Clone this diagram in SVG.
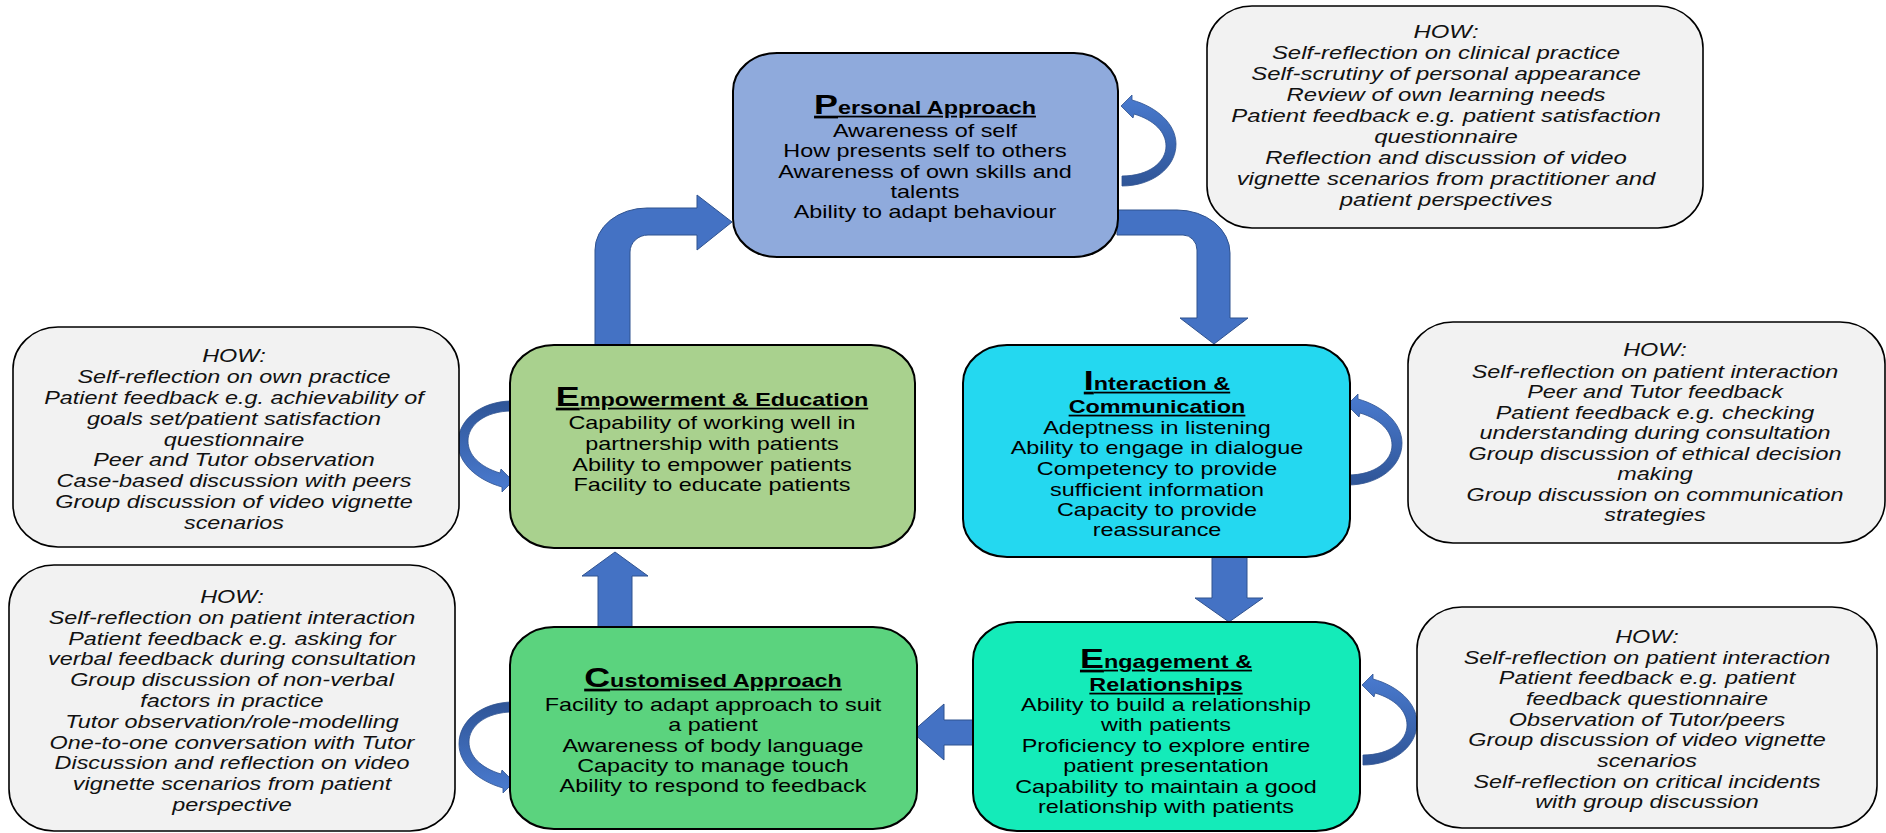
<svg xmlns="http://www.w3.org/2000/svg" xmlns:xlink="http://www.w3.org/1999/xlink" width="1886" height="833" viewBox="0 0 1886 833">
<style>
.t{font-family:"Liberation Sans",Arial,sans-serif;font-size:17.6px;fill:#000;text-anchor:middle}
.how{font-style:italic;fill:#111}
.ttl{font-weight:bold;text-decoration:underline}
.big{font-size:27px}
.node{stroke:#000;stroke-width:2}
.hbox{fill:#f2f2f2;stroke:#000;stroke-width:1.6}
.arr{fill:#4472c4;stroke:#2f528f;stroke-width:1}
.loop{fill:url(#lg);stroke:#2f528f;stroke-width:0.8}
</style>
<defs>
<linearGradient id="lg" x1="0" y1="0" x2="0" y2="1">
<stop offset="0" stop-color="#4a7bd0"/>
<stop offset="1" stop-color="#2f5597"/>
</linearGradient>
<path id="loopShape" d="M1,80 C31,80 55,62 55,38 C55,18 36,1 11,-6 L11,-11 L0,0 L12,12 L13,8 C33,14 45,26 45,40 C45,56 28,70 1,70 Z"/>
</defs>
<rect width="1886" height="833" fill="#fff"/>

<g id="connectors">
<path class="arr" d="M595,345 L595,250 A52,42 0 0 1 647,208 L697,208 L697,195 L732,222 L697,250 L697,235 L648,235 A18,17 0 0 0 630,252 L630,345 Z"/>
<path class="arr" d="M1117,210 L1177,210 A53,43 0 0 1 1230,253 L1230,318 L1248,318 L1214,344 L1180,318 L1197,318 L1197,250 A14,15 0 0 0 1183,235 L1117,235 Z"/>
<path class="arr" d="M1212,557 L1247,557 L1247,598 L1263,598 L1229,622 L1195,598 L1212,598 Z"/>
<path class="arr" d="M977,720 L944,720 L944,704 L912,732 L944,760 L944,745 L977,745 Z"/>
<path class="arr" d="M598,627 L598,576 L582,576 L615,552 L648,576 L632,576 L632,627 Z"/>
<use xlink:href="#loopShape" class="loop" transform="translate(1121,106)"/>
<use xlink:href="#loopShape" class="loop" transform="translate(1347,405)"/>
<use xlink:href="#loopShape" class="loop" transform="translate(1362,685)"/>
<use xlink:href="#loopShape" class="loop" transform="translate(513,481) rotate(180)"/>
<use xlink:href="#loopShape" class="loop" transform="translate(514,782) rotate(180)"/>
</g>

<g id="personal">
<rect class="node" x="733" y="53" width="385" height="204" rx="44" ry="38" fill="#8faadc"/>
<g transform="translate(925,0) scale(1.33,1)">
<text class="t ttl" x="0" y="114"><tspan class="big">P</tspan>ersonal Approach</text>
<text class="t"><tspan x="0" y="137">Awareness of self</tspan><tspan x="0" y="157">How presents self to others</tspan><tspan x="0" y="178">Awareness of own skills and</tspan><tspan x="0" y="198">talents</tspan><tspan x="0" y="218">Ability to adapt behaviour</tspan></text>
</g>
</g>

<g id="empowerment">
<rect class="node" x="510" y="345" width="405" height="203" rx="44" ry="38" fill="#a9d18e"/>
<g transform="translate(712,0) scale(1.33,1)">
<text class="t ttl" x="0" y="406"><tspan class="big">E</tspan>mpowerment &amp; Education</text>
<text class="t"><tspan x="0" y="429">Capability of working well in</tspan><tspan x="0" y="450">partnership with patients</tspan><tspan x="0" y="471">Ability to empower patients</tspan><tspan x="0" y="491">Facility to educate patients</tspan></text>
</g>
</g>

<g id="interaction">
<rect class="node" x="963" y="345" width="387" height="212" rx="44" ry="38" fill="#24d8f0"/>
<g transform="translate(1157,0) scale(1.33,1)">
<text class="t ttl"><tspan x="0" y="390"><tspan class="big">I</tspan>nteraction &amp;</tspan><tspan x="0" y="413">Communication</tspan></text>
<text class="t"><tspan x="0" y="434">Adeptness in listening</tspan><tspan x="0" y="454">Ability to engage in dialogue</tspan><tspan x="0" y="475">Competency to provide</tspan><tspan x="0" y="496">sufficient information</tspan><tspan x="0" y="516">Capacity to provide</tspan><tspan x="0" y="536">reassurance</tspan></text>
</g>
</g>

<g id="engagement">
<rect class="node" x="973" y="622" width="387" height="209" rx="44" ry="38" fill="#14ebb9"/>
<g transform="translate(1166,0) scale(1.33,1)">
<text class="t ttl"><tspan x="0" y="668"><tspan class="big">E</tspan>ngagement &amp;</tspan><tspan x="0" y="691">Relationships</tspan></text>
<text class="t"><tspan x="0" y="711">Ability to build a relationship</tspan><tspan x="0" y="731">with patients</tspan><tspan x="0" y="752">Proficiency to explore entire</tspan><tspan x="0" y="772">patient presentation</tspan><tspan x="0" y="793">Capability to maintain a good</tspan><tspan x="0" y="813">relationship with patients</tspan></text>
</g>
</g>

<g id="customised">
<rect class="node" x="510" y="627" width="407" height="202" rx="44" ry="38" fill="#5bd37e"/>
<g transform="translate(713,0) scale(1.33,1)">
<text class="t ttl" x="0" y="687"><tspan class="big">C</tspan>ustomised Approach</text>
<text class="t"><tspan x="0" y="711">Facility to adapt approach to suit</tspan><tspan x="0" y="731">a patient</tspan><tspan x="0" y="752">Awareness of body language</tspan><tspan x="0" y="772">Capacity to manage touch</tspan><tspan x="0" y="792">Ability to respond to feedback</tspan></text>
</g>
</g>

<g id="how-personal">
<rect class="hbox" x="1207" y="6" width="496" height="222" rx="45" ry="42"/>
<g transform="translate(1446,0) scale(1.33,1)">
<text class="t how" style="font-size:18px"><tspan x="0" y="38">HOW:</tspan><tspan x="0" y="59">Self-reflection on clinical practice</tspan><tspan x="0" y="80">Self-scrutiny of personal appearance</tspan><tspan x="0" y="101">Review of own learning needs</tspan><tspan x="0" y="122">Patient feedback e.g. patient satisfaction</tspan><tspan x="0" y="143">questionnaire</tspan><tspan x="0" y="164">Reflection and discussion of video</tspan><tspan x="0" y="185">vignette scenarios from practitioner and</tspan><tspan x="0" y="206">patient perspectives</tspan></text>
</g>
</g>

<g id="how-empowerment">
<rect class="hbox" x="13" y="327" width="446" height="220" rx="45" ry="42"/>
<g transform="translate(234,0) scale(1.33,1)">
<text class="t how"><tspan x="0" y="362">HOW:</tspan><tspan x="0" y="383">Self-reflection on own practice</tspan><tspan x="0" y="404">Patient feedback e.g. achievability of</tspan><tspan x="0" y="425">goals set/patient satisfaction</tspan><tspan x="0" y="446">questionnaire</tspan><tspan x="0" y="466">Peer and Tutor observation</tspan><tspan x="0" y="487">Case-based discussion with peers</tspan><tspan x="0" y="508">Group discussion of video vignette</tspan><tspan x="0" y="529">scenarios</tspan></text>
</g>
</g>

<g id="how-interaction">
<rect class="hbox" x="1408" y="322" width="477" height="221" rx="45" ry="42"/>
<g transform="translate(1655,0) scale(1.33,1)">
<text class="t how"><tspan x="0" y="356">HOW:</tspan><tspan x="0" y="378">Self-reflection on patient interaction</tspan><tspan x="0" y="398.5">Peer and Tutor feedback</tspan><tspan x="0" y="419">Patient feedback e.g. checking</tspan><tspan x="0" y="439.5">understanding during consultation</tspan><tspan x="0" y="460">Group discussion of ethical decision</tspan><tspan x="0" y="480.5">making</tspan><tspan x="0" y="501">Group discussion on communication</tspan><tspan x="0" y="521.5">strategies</tspan></text>
</g>
</g>

<g id="how-customised">
<rect class="hbox" x="9" y="565" width="446" height="266" rx="45" ry="42"/>
<g transform="translate(232,0) scale(1.33,1)">
<text class="t how"><tspan x="0" y="603">HOW:</tspan><tspan x="0" y="624">Self-reflection on patient interaction</tspan><tspan x="0" y="645">Patient feedback e.g. asking for</tspan><tspan x="0" y="665">verbal feedback during consultation</tspan><tspan x="0" y="686">Group discussion of non-verbal</tspan><tspan x="0" y="707">factors in practice</tspan><tspan x="0" y="728">Tutor observation/role-modelling</tspan><tspan x="0" y="749">One-to-one conversation with Tutor</tspan><tspan x="0" y="769">Discussion and reflection on video</tspan><tspan x="0" y="790">vignette scenarios from patient</tspan><tspan x="0" y="811">perspective</tspan></text>
</g>
</g>

<g id="how-engagement">
<rect class="hbox" x="1417" y="607" width="460" height="221" rx="45" ry="42"/>
<g transform="translate(1647,0) scale(1.33,1)">
<text class="t how"><tspan x="0" y="643">HOW:</tspan><tspan x="0" y="664">Self-reflection on patient interaction</tspan><tspan x="0" y="684">Patient feedback e.g. patient</tspan><tspan x="0" y="705">feedback questionnaire</tspan><tspan x="0" y="726">Observation of Tutor/peers</tspan><tspan x="0" y="746">Group discussion of video vignette</tspan><tspan x="0" y="767">scenarios</tspan><tspan x="0" y="788">Self-reflection on critical incidents</tspan><tspan x="0" y="808">with group discussion</tspan></text>
</g>
</g>
</svg>
